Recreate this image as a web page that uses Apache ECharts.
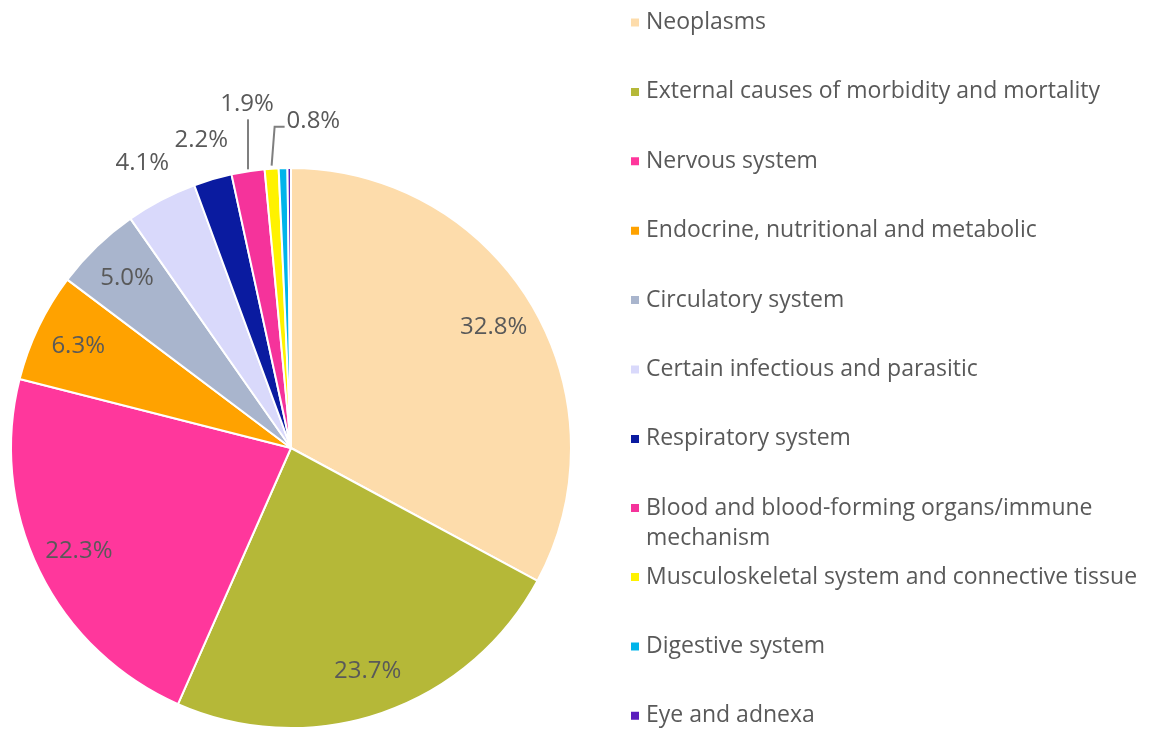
<!DOCTYPE html>
<html><head><meta charset="utf-8">
<script src="https://cdn.jsdelivr.net/npm/echarts@6.0.0/dist/echarts.min.js"></script>
<style>html,body{margin:0;padding:0;background:#fff}#c{width:1165px;height:729px}</style>
</head><body><div id="c"></div>
<script>
// ---- data ----
const categories = [
  'Neoplasms',
  'External causes of morbidity and mortality',
  'Nervous system',
  'Endocrine, nutritional and metabolic',
  'Circulatory system',
  'Certain infectious and parasitic',
  'Respiratory system',
  'Blood and blood-forming organs/immune mechanism',
  'Musculoskeletal system and connective tissue',
  'Digestive system',
  'Eye and adnexa'
];
const shares = [32.8, 23.7, 22.3, 6.3, 5.0, 4.1, 2.2, 1.9, 0.8, 0.5, 0.2];

// ---- style ----
const colors = ['#FDDCAB','#B5B838','#FF379C','#FFA200','#A9B5CD','#D9D9FB','#0A1BA0','#F5339B','#FFF200','#00B4EA','#5A1DBD'];
const labelMode = ['in','in','in','in','in','out','out','lead','elbow','none','none'];
const FONT = 'Open Sans';
const TXT = '#595959';
const CENTER = [291, 448];
const R = 280;

const fmt = v => v.toFixed(1) + '%';

const mainData = categories.map((n, i) => {
  const d = { name: n, value: shares[i], itemStyle: { color: colors[i] } };
  if (labelMode[i] === 'lead' || labelMode[i] === 'elbow') {
    d.label = { show: true, position: 'outside' };
    d.labelLine = { show: true, length: 10, length2: 0 };
  } else {
    d.label = { show: false };
    d.labelLine = { show: false };
  }
  return d;
});
const ringData = (mode) => categories.map((n, i) => ({
  name: n, value: shares[i],
  label: { show: labelMode[i] === mode }
}));

const transparentStyle = { color: 'rgba(0,0,0,0)', borderWidth: 0 };
const labelText = { color: TXT, fontFamily: FONT, fontSize: 24 };

const legendBase = {
  orient: 'vertical', left: 629, padding: 0, itemWidth: 10, itemHeight: 10,
  icon: 'rect', selectedMode: false, itemGap: 34.4, height: 260,
  textStyle: { color: TXT, fontFamily: FONT, fontSize: 23, lineHeight: 30, padding: [5,0,0,1] }
};

const option = {
  animation: false,
  backgroundColor: '#fff',
  legend: [
    Object.assign({}, legendBase, { top: 5, height: 500, data: categories.slice(0, 7) }),
    Object.assign({}, legendBase, {
      top: 460.5, data: categories.slice(7, 8),
      // leading blank line keeps the first text line level with the marker
      formatter: n => '\u00a0\n' + n.replace('/immune ', '/immune\n')
    }),
    Object.assign({}, legendBase, { top: 559.5, data: categories.slice(8) })
  ],
  series: [
    {
      type: 'pie', name: 'main', center: CENTER, radius: [0, R],
      startAngle: 90, clockwise: true, avoidLabelOverlap: false,
      itemStyle: { borderColor: '#fff', borderWidth: 2 },
      emphasis: { disabled: true },
      label: Object.assign({ formatter: p => fmt(p.value) }, labelText),
      labelLine: { lineStyle: { color: '#7f7f7f', width: 2 } },
      labelLayout: function (p) {
        const mode = labelMode[p.dataIndex];
        const pts = p.labelLinePoints;
        if (!pts) return {};
        const e = pts[0];
        if (mode === 'lead') {
          return { x: e[0] - 1, y: e[1] - 67, align: 'center', verticalAlign: 'middle',
            labelLinePoints: [[e[0], e[1] - 2], [e[0], e[1] - 52], [e[0], e[1] - 52]] };
        }
        if (mode === 'elbow') {
          return { x: e[0] + 15, y: e[1] - 48, align: 'left', verticalAlign: 'middle',
            labelLinePoints: [[e[0], e[1] - 3], [e[0] + 3, e[1] - 42], [e[0] + 13, e[1] - 42]] };
        }
        return {};
      },
      data: mainData
    },
    {
      type: 'pie', name: 'labelsIn', center: CENTER, radius: [186, R],
      startAngle: 90, clockwise: true, silent: true, avoidLabelOverlap: false,
      itemStyle: transparentStyle, emphasis: { disabled: true },
      label: Object.assign({ position: 'inside', formatter: p => fmt(p.value) }, labelText),
      labelLine: { show: false },
      data: ringData('in')
    },
    {
      type: 'pie', name: 'labelsOut', center: CENTER, radius: [300, 336],
      startAngle: 90, clockwise: true, silent: true, avoidLabelOverlap: false,
      itemStyle: transparentStyle, emphasis: { disabled: true },
      label: Object.assign({ position: 'inside', formatter: p => fmt(p.value) }, labelText),
      labelLine: { show: false },
      data: ringData('out')
    }
  ]
};
const chart = echarts.init(document.getElementById('c'), null, { renderer: 'canvas' });
chart.setOption(option);
</script></body></html>
